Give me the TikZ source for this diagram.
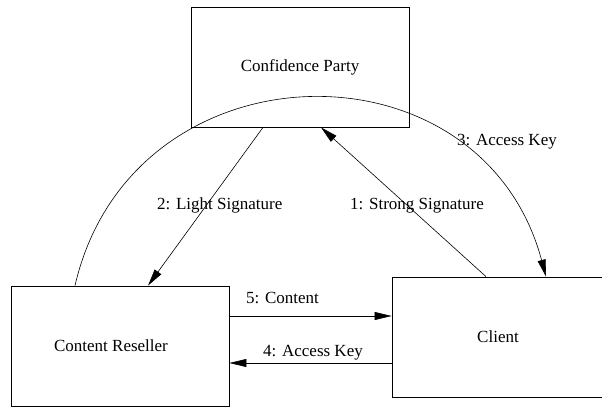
\documentclass[tikz,border=0pt]{standalone}
\usepackage{fontspec}
\setmainfont{Liberation Serif}
\usepackage{tikz}
\usetikzlibrary{calc}
\usetikzlibrary{arrows.meta}
\usetikzlibrary{positioning}

\begin{document}
\begin{tikzpicture}[x=1pt, y=1pt,
  party/.style={rectangle, draw=black, line width=0.8pt, minimum width=218pt, minimum height=120pt, inner sep=0pt, font=\fontsize{17}{20}\selectfont},
  msg/.style={anchor=base west, inner sep=0pt, font=\fontsize{17}{20}\selectfont},
  flow/.style={-{Triangle[length=17pt, width=8pt]}, line width=0.6pt, draw=black}]
 \useasboundingbox (0, 0) rectangle (602, 408);
 \clip (0, 0) rectangle (602, 408);
 \node [party] (CP) at (300, 341) {Confidence Party};
 \node [party] (CR) at (120, 62) {Content Reseller\hspace*{18pt}};
 \node [party, minimum width=278pt] (CL) at (531, 71) {Client\hspace*{66pt}};
 \draw [flow] ([xshift=-45pt]CL.north) to ([xshift=21pt]CP.south);
 \draw [flow] ([xshift=-37pt]CP.south) to ([xshift=28pt]CR.north);
 \draw [flow] ([xshift=-45pt]CR.north) to [out=77, in=105, looseness=1.36] ([xshift=15pt]CL.north);
 \draw [flow] ([yshift=-26pt]CL.west) to ([yshift=-26pt]CL.west -| CR.east);
 \draw [flow] ([yshift=30pt]CR.east) to ([yshift=30pt]CR.east -| CL.west);
 \node [msg] (m1) at (350, 199) {1: Strong Signature};
 \node [msg] (m2) at (157, 199) {2: Light Signature};
 \node [msg] (m3) at (457, 263) {3: Access Key};
 \node [msg] (m4) at (263, 52) {4: Access Key};
 \node [msg] (m5) at (246, 105) {5: Content};
\end{tikzpicture}
\end{document}
